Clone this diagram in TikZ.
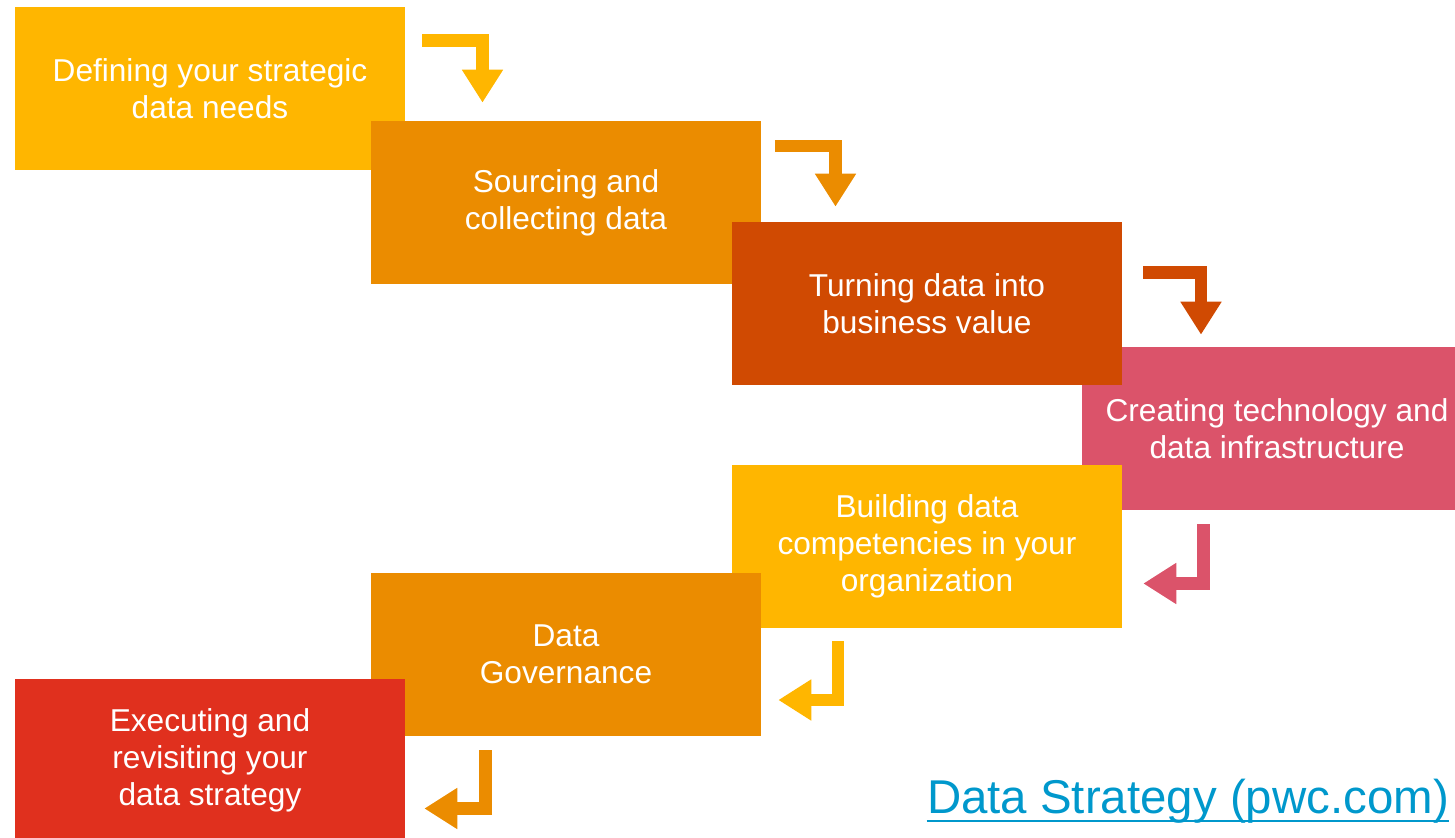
\documentclass[tikz,border=0pt]{standalone}
\usepackage{fontspec}
\setmainfont{Liberation Sans}
\usetikzlibrary{arrows.meta}

\definecolor{pwcyellow}{HTML}{FFB600}
\definecolor{pwcorange}{HTML}{EB8C00}
\definecolor{pwctangerine}{HTML}{D04A02}
\definecolor{pwcrose}{HTML}{DB536A}
\definecolor{pwcred}{HTML}{E0301E}
\definecolor{linkblue}{HTML}{0098CC}

\begin{document}
\begin{tikzpicture}[x=0.02cm, y=-0.02cm]

\tikzset{
    phase/.style={fill=#1, text=white, minimum width=7.8cm, minimum height=3.26cm,
        inner sep=0pt, align=center, font=\fontsize{18}{21}\selectfont},
    turnarrow/.style={draw=#1, line width=0.25cm, -{Triangle[width=0.78cm, length=0.66cm]}}
}
\useasboundingbox (0,0) rectangle (1455,838);
\clip (0,0) rectangle (1455,838);

\node[phase=pwcyellow] (define) at (210,88.5) {Defining your strategic\\data needs};
\node[phase=pwcorange] (source) at (566,202.5) {Sourcing and\\collecting data};
\node[phase=pwcrose] (tech) at (1277,428.5) {Creating technology and\\data infrastructure};
\node[phase=pwctangerine] (turn) at (927,303.5) {Turning data into\\business value};
\node[phase=pwcyellow] (build) at (927,546.5) {Building data\\competencies in your\\organization};
\node[phase=pwcorange] (gov) at (566,654.5) {Data\\Governance};
\node[phase=pwcred] (exec) at (210,760.5) {Executing and\\revisiting your\\data strategy};

\draw[turnarrow=pwcyellow] ([shift={(17,34)}]define.north east) -| ([shift={(-83.5,-18)}]source.north);
\draw[turnarrow=pwcorange] ([shift={(13.5,25.5)}]source.north east) -| ([shift={(-91.5,-15)}]turn.north);
\draw[turnarrow=pwctangerine] ([shift={(21,51)}]turn.north east) -| ([shift={(-76,-12)}]tech.north);
\draw[turnarrow=pwcrose] ([shift={(-73.5,14)}]tech.south) |- ([shift={(21,37)}]build.east);
\draw[turnarrow=pwcyellow] ([shift={(-89,13)}]build.south) |- ([shift={(17,45.5)}]gov.east);
\draw[turnarrow=pwcorange] ([shift={(-80.5,14)}]gov.south) |- ([shift={(19,48)}]exec.east);

\node[font=\fontsize{27}{32}\selectfont, text=linkblue, inner sep=0pt, anchor=base] (link) at (1188,813) {Data Strategy (pwc.com)};
\draw[linkblue, line width=0.05cm] ([yshift=-0.16cm]link.base west) -- ([yshift=-0.16cm]link.base east);

\end{tikzpicture}
\end{document}
